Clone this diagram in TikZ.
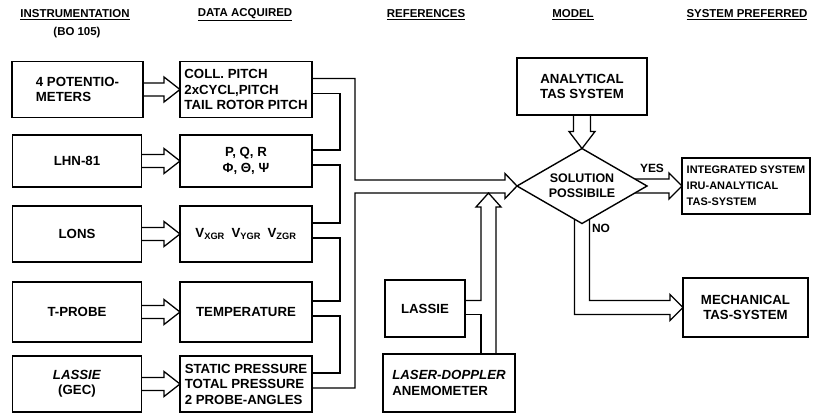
\documentclass[tikz,border=0pt]{standalone}
\usepackage{fontspec}
\setmainfont{Liberation Sans}
\usetikzlibrary{calc,shapes.geometric}
\newcommand\pipeharrow[2]{%
  \draw[pipe] ($(#1.east)+(0,-6.5)$) -- ($(#2.west)+(-16,-6.5)$) -- ($(#2.west)+(-16,-12.5)$)
    -- (#2.west) -- ($(#2.west)+(-16,12.5)$) -- ($(#2.west)+(-16,6.5)$) -- ($(#1.east)+(0,6.5)$);}
\begin{document}
\begin{tikzpicture}[x=1bp,y=-1bp,
  every node/.style={inner sep=0pt, outer sep=0pt},
  bx/.style={draw, line width=1.4bp, font=\bfseries\fontsize{13.3}{15.5}\selectfont, align=center},
  lbx/.style={bx, align=left},
  hdr/.style={font=\bfseries\fontsize{11.5}{13}\selectfont},
  lbl/.style={font=\bfseries\fontsize{12}{13}\selectfont},
  pipe/.style={line width=1.3bp, line join=miter}]
\useasboundingbox[fill=white] (0,0) rectangle (816,413);

% headers
\node[hdr] (h1) at (75,15) {\underline{INSTRUMENTATION}};
\node[hdr] (h1b) at (77,33) {(BO 105)};
\node[hdr] (h2) at (245,15) {\underline{DATA ACQUIRED}};
\node[hdr] (h3) at (426,15) {\underline{REFERENCES}};
\node[hdr] (h4) at (573,15) {\underline{MODEL}};
\node[hdr] (h5) at (747,15) {\underline{SYSTEM PREFERRED}};

% instrumentation
\node[bx, minimum width=131bp, minimum height=56bp, align=left] (p4) at (77.5,89.5) {4 POTENTIO-\\METERS};
\node[bx, minimum width=129bp, minimum height=52bp] (lhn) at (77,161) {LHN-81};
\node[bx, minimum width=129bp, minimum height=56bp] (lons) at (77,234) {LONS};
\node[bx, minimum width=129bp, minimum height=60bp] (tpr) at (77,312) {T-PROBE};
\node[bx, minimum width=129bp, minimum height=56bp] (lgec) at (77,384) {\textit{LASSIE}\\(GEC)};

% data acquired
\node[lbx, minimum width=132bp, minimum height=56bp] (coll) at (246,89.5) {COLL. PITCH\\2xCYCL,PITCH\\TAIL ROTOR PITCH};
\node[bx, minimum width=132bp, minimum height=52bp] (pqr) at (246,161) {P, Q, R\\Φ, Θ, Ψ};
\node[bx, minimum width=132bp, minimum height=56bp] (vgr) at (246,234) {V\textsubscript{XGR}\enspace V\textsubscript{YGR}\enspace V\textsubscript{ZGR}};
\node[bx, minimum width=132bp, minimum height=60bp] (temp) at (246,312) {TEMPERATURE};
\node[lbx, minimum width=132bp, minimum height=56bp] (stat) at (246,384) {STATIC PRESSURE\\TOTAL PRESSURE\\2 PROBE-ANGLES};

% references
\node[bx, minimum width=80bp, minimum height=57bp] (lref) at (425,308.5) {LASSIE};
\node[lbx, minimum width=132bp, minimum height=58bp] (lda) at (449,383) {\textit{LASER-DOPPLER}\\ANEMOMETER};

% model
\node[bx, minimum width=130bp, minimum height=57bp] (anal) at (582,86.5) {ANALYTICAL\\TAS SYSTEM};
\node[diamond, draw, line width=1.4bp, aspect=1.73, minimum width=130bp, minimum height=75bp,
      font=\bfseries\fontsize{12.5}{15}\selectfont, align=center] (dia) at (582,186) {SOLUTION\\POSSIBILE};

% system preferred
\node[lbx, minimum width=128bp, minimum height=56bp, font=\bfseries\fontsize{11}{16}\selectfont] (integ) at (746,186) {INTEGRATED SYSTEM\\IRU-ANALYTICAL\\TAS-SYSTEM};
\node[bx, minimum width=125bp, minimum height=59bp] (mech) at (745.5,307.5) {MECHANICAL\\TAS-SYSTEM};

% instrumentation -> data
\pipeharrow{p4}{coll}
\pipeharrow{lhn}{pqr}
\pipeharrow{lons}{vgr}
\pipeharrow{tpr}{temp}
\pipeharrow{lgec}{stat}

% manifold
\coordinate (rtip) at (488.5,193);
\draw[pipe] ($(coll.east)+(0,-11)$) -| (355,180) -- (505,180) -- (505,173.5) -- (dia.west)
  -- (505,198.5) -- (505,193) -- (rtip) -- (355,193) |- ($(stat.east)+(0,4)$);
\draw[pipe] ($(coll.east)+(0,4)$) -- ++(28,0) |- ($(pqr.east)+(0,-11)$);
\draw[pipe] ($(pqr.east)+(0,4)$) -- ++(28,0) |- ($(vgr.east)+(0,-11)$);
\draw[pipe] ($(vgr.east)+(0,4)$) -- ++(28,0) |- ($(temp.east)+(0,-11)$);
\draw[pipe] ($(temp.east)+(0,4)$) -- ++(28,0) |- ($(stat.east)+(0,-11)$);

% references -> main
\coordinate (rl) at (481,207);
\coordinate (rr) at (496,207);
\draw[pipe] ($(lref.east)+(0,-8)$) -| (rl) -- (476,207) -- (rtip) -- (501,207) -- (rr) -- (rr |- lda.north);
\draw[pipe] ($(lref.east)+(0,6)$) -| (rl |- lda.north);

% analytical -> diamond
\draw[pipe] ($(anal.south)+(-8.5,0)$) -- ($(dia.north)+(-8.5,-17)$) -- ($(dia.north)+(-13,-17)$)
  -- (dia.north) -- ($(dia.north)+(13,-17)$) -- ($(dia.north)+(8.5,-17)$) -- ($(anal.south)+(8.5,0)$);

% yes
\draw[pipe] ($(dia.east)+(-12,-7)$) -- ($(integ.west)+(-13,-7)$) -- ($(integ.west)+(-13,-13)$)
  -- (integ.west) -- ($(integ.west)+(-13,13)$) -- ($(integ.west)+(-13,7)$) -- ($(dia.east)+(-12,7)$);
\node[lbl] (yes) at (652,168) {YES};

% no
\draw[pipe] ($(dia.south)+(-7.5,-4.3)$) |- ($(mech.west)+(-13,7)$) -- ($(mech.west)+(-13,13)$)
  -- (mech.west) -- ($(mech.west)+(-13,-13)$) -- ($(mech.west)+(-13,-7)$) -| ($(dia.south)+(7.5,-4.3)$);
\node[lbl] (no) at (601,228) {NO};
\end{tikzpicture}
\end{document}
